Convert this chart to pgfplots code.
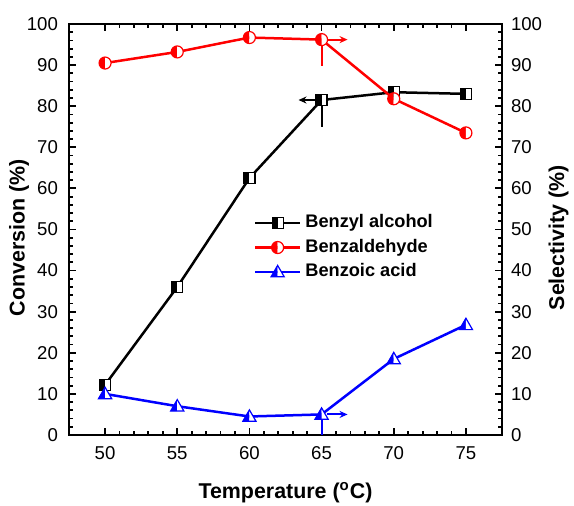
\documentclass[border=0pt]{standalone}
\usepackage{fontspec}
\setmainfont{Liberation Sans}
\usepackage{pgfplots}
\pgfplotsset{compat=1.18}
\usetikzlibrary{arrows.meta}

% half-filled marks: left half in fill colour, right half white
\pgfdeclareplotmark{hsquare}{%
  \pgfpathrectangle{\pgfqpoint{-\pgfplotmarksize}{-\pgfplotmarksize}}{\pgfqpoint{\pgfplotmarksize}{2\pgfplotmarksize}}%
  \pgfusepath{fill}%
  \begin{pgfscope}\pgfsetfillcolor{white}%
  \pgfpathrectangle{\pgfqpoint{0pt}{-\pgfplotmarksize}}{\pgfqpoint{\pgfplotmarksize}{2\pgfplotmarksize}}%
  \pgfusepath{fill}\end{pgfscope}%
  \pgfpathrectangle{\pgfqpoint{-\pgfplotmarksize}{-\pgfplotmarksize}}{\pgfqpoint{2\pgfplotmarksize}{2\pgfplotmarksize}}%
  \pgfusepath{stroke}}
\pgfdeclareplotmark{hcircle}{%
  \pgfpathmoveto{\pgfqpoint{0pt}{\pgfplotmarksize}}%
  \pgfpatharc{90}{270}{\pgfplotmarksize}\pgfpathclose
  \pgfusepath{fill}%
  \begin{pgfscope}\pgfsetfillcolor{white}%
  \pgfpathmoveto{\pgfqpoint{0pt}{-\pgfplotmarksize}}%
  \pgfpatharc{-90}{90}{\pgfplotmarksize}\pgfpathclose
  \pgfusepath{fill}\end{pgfscope}%
  \pgfpathcircle{\pgfpointorigin}{\pgfplotmarksize}%
  \pgfusepath{stroke}}
\pgfdeclareplotmark{htriangle}{%
  \pgfpathmoveto{\pgfqpoint{0pt}{1.1\pgfplotmarksize}}%
  \pgfpathlineto{\pgfqpoint{-1.1\pgfplotmarksize}{-0.8\pgfplotmarksize}}%
  \pgfpathlineto{\pgfqpoint{0pt}{-0.8\pgfplotmarksize}}\pgfpathclose
  \pgfusepath{fill}%
  \begin{pgfscope}\pgfsetfillcolor{white}%
  \pgfpathmoveto{\pgfqpoint{0pt}{1.1\pgfplotmarksize}}%
  \pgfpathlineto{\pgfqpoint{1.1\pgfplotmarksize}{-0.8\pgfplotmarksize}}%
  \pgfpathlineto{\pgfqpoint{0pt}{-0.8\pgfplotmarksize}}\pgfpathclose
  \pgfusepath{fill}\end{pgfscope}%
  \pgfpathmoveto{\pgfqpoint{0pt}{1.1\pgfplotmarksize}}%
  \pgfpathlineto{\pgfqpoint{-1.1\pgfplotmarksize}{-0.8\pgfplotmarksize}}%
  \pgfpathlineto{\pgfqpoint{1.1\pgfplotmarksize}{-0.8\pgfplotmarksize}}\pgfpathclose
  \pgfusepath{stroke}}

\pgfplotsset{
  common/.style={
    scale only axis, width=216.5pt, height=205.5pt,
    xmin=47.5, xmax=77.5, ymin=0, ymax=100,
    tick align=inside, major tick length=3.5pt, minor tick length=2pt,
    every tick/.style={line width=0.9pt, black},
    minor tick num=4,
    axis line style={line width=1.3pt},
    tick label style={font=\fontsize{9.3}{11}\selectfont},
    label style={font=\fontsize{10.7}{12}\selectfont\bfseries},
    /pgf/number format/assume math mode=true,
  },
  legend image code/.code={%
    \draw[mark repeat=2,mark phase=2] plot coordinates {(0pt,0pt)(11.25pt,0pt)(22.5pt,0pt)};},
}

\begin{document}
\begin{tikzpicture}
\begin{axis}[common, name=ax,
  xtick={50,55,...,75}, ytick={0,10,...,100},
  ytick pos=left, xtick pos=both,
  xticklabel style={yshift=-2.2pt},
  yticklabel style={xshift=-2pt},
  xlabel={Temperature (\textsuperscript{o}C)},
  xlabel style={at={(axis description cs:0.5,-0.141)}, anchor=center},
  ylabel={Conversion (\%)},
  ylabel style={at={(axis description cs:-0.1155,0.48)}, anchor=center},
]
\addplot[black, line width=1.25pt, mark=hsquare, mark size=2.75pt,
  mark options={solid, line width=0.6pt, fill=black, draw=black}]
  coordinates {(50,12.2) (55,36) (60,62.5) (65,81.5) (70,83.4) (75,83)};
\draw[black, line width=1pt] (axis cs:65,81.5) -- (axis cs:65,75);
\draw[black, line width=1pt, -{Stealth[length=4pt,width=3.5pt]}] (axis cs:64.6,81.5) -- (axis cs:63.4,81.5);
\end{axis}
\begin{axis}[common,
  hide x axis, axis y line*=right,
  ytick={0,10,...,100},
  yticklabel style={xshift=1pt},
  ylabel={Selectivity (\%)},
  ylabel style={at={(axis description cs:1.1305,0.48)}, anchor=center},
  legend style={draw=none, fill=none, inner sep=0pt, outer sep=0pt,
    at={(0.427,0.542)}, anchor=north west,
    font=\fontsize{9.1}{10}\selectfont\bfseries, row sep=1.45pt,
    nodes={inner sep=1pt, text height=6.8pt, text depth=2pt},
    /tikz/every odd column/.append style={column sep=1pt}},
  legend cell align=left,
]
\addlegendimage{black, line width=1.25pt, mark=hsquare, mark size=2.75pt,
  mark options={solid, line width=0.6pt, fill=black, draw=black}}
\addlegendentry{Benzyl alcohol}
\addplot[red, line width=1.25pt, mark=hcircle, mark size=3pt,
  mark options={solid, line width=0.6pt, fill=red, draw=red}]
  coordinates {(50,90.5) (55,93.2) (60,96.7) (65,96.2) (70,81.8) (75,73.5)};
\addlegendentry{Benzaldehyde}
\addplot[blue, line width=1.25pt, mark=htriangle, mark size=3pt,
  mark options={solid, line width=0.6pt, fill=blue, draw=blue}]
  coordinates {(50,10) (55,7) (60,4.5) (65,5) (70,18.5) (75,26.8)};
\addlegendentry{Benzoic acid}
\draw[red, line width=1pt] (axis cs:65,96.2) -- (axis cs:65,89.8);
\draw[red, line width=1pt, -{Stealth[length=4pt,width=3.5pt]}] (axis cs:65.4,96.2) -- (axis cs:66.8,96.2);
\draw[blue, line width=1pt] (axis cs:65,5) -- (axis cs:65,0);
\draw[blue, line width=1pt, -{Stealth[length=4pt,width=3.5pt]}] (axis cs:65.4,5) -- (axis cs:66.8,5);
\end{axis}
\pgfresetboundingbox
\path[use as bounding box] ([xshift=-34.5pt,yshift=-35.5pt]ax.south west)
  rectangle ([xshift=36pt,yshift=12pt]ax.north east);
\end{tikzpicture}
\end{document}
